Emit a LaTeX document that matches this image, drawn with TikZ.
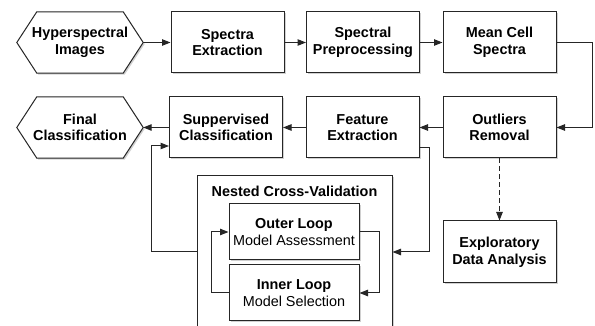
\documentclass[tikz,border=0pt]{standalone}
\usepackage{fontspec}
\setmainfont{Liberation Sans}
\usetikzlibrary{arrows.meta,shadows,backgrounds}
\begin{document}
\begin{tikzpicture}[x=1pt,y=1pt,
  line/.style={draw=black!85, line width=1pt},
  myshadow/.style={drop shadow={shadow xshift=1.5pt, shadow yshift=-1.5pt, opacity=0.3, fill=black!60}},
  basefont/.style={font=\fontsize{14.4}{16.7}\selectfont},
  boldfont/.style={font=\fontsize{14.4}{16.7}\selectfont\bfseries},
  box/.style={line, fill=white, myshadow, boldfont, minimum width=113pt, minimum height=61pt, align=center, inner sep=2pt},
  hextext/.style={boldfont, minimum width=126pt, minimum height=61pt, align=center, inner sep=2pt},
  hexline/.style={line, fill=white, myshadow},
  loopbox/.style={line, fill=white, myshadow, basefont, minimum width=130pt, minimum height=56pt, align=center, inner sep=2pt},
  arr/.style={line, -{Triangle[length=8.5pt,width=6.5pt]}},
]
\useasboundingbox (0,0) rectangle (595,326);

% row 1
\node[hextext] (hyp) at (80,283.5) {Hyperspectral\\Images};
\node[box] (se) at (227.5,283.5) {Spectra\\Extraction};
\node[box] (sp) at (363,283.5) {Spectral\\Preprocessing};
\node[box] (mc) at (499.5,283.5) {Mean Cell\\Spectra};

% row 2
\node[hextext] (fc) at (80,198.5) {Final\\Classification};
\node[box] (sc) at (226,198.5) {Suppervised\\Classification};
\node[box] (fe) at (362.5,198.5) {Feature\\Extraction};
\node[box] (or) at (499.5,198.5) {Outliers\\Removal};

% exploratory
\node[box, minimum height=62pt] (ex) at (499.5,74) {Exploratory\\Data Analysis};

% nested CV
\node[line, fill=white, myshadow, minimum width=195pt, minimum height=160pt] (ncv) at (294.5,70) {};
\node[boldfont, anchor=base] (ncvt) at (294.5,129) {Nested Cross-Validation};
\node[loopbox] (outer) at (294,94) {\textbf{Outer Loop}\\Model Assessment};
\node[loopbox] (inner) at (294,33) {\textbf{Inner Loop}\\Model Selection};

% hexagons
\begin{scope}[on background layer]
\foreach \h in {hyp,fc}{
  \draw[hexline] (\h.west) -- ([xshift=20pt]\h.north west) -- ([xshift=-20pt]\h.north east) -- (\h.east) -- ([xshift=-20pt]\h.south east) -- ([xshift=20pt]\h.south west) -- cycle;
}
\end{scope}

% connectors
\draw[arr] (hyp.east) -- (se.west);
\draw[arr] (se.east) -- (sp.west);
\draw[arr] (sp.east) -- (mc.west);
\draw[arr] (mc.east) -- ++(36,0) |- (or.east);
\draw[arr] (or.west) -- (fe.east);
\draw[arr] (fe.west) -- (sc.east);
\draw[arr] (sc.west) -- (fc.east);
\draw[arr] ([yshift=11pt]fe.south east) -- ++(10,0) |- ([yshift=4pt]ncv.east);
\draw[arr] ([yshift=4pt]ncv.west) -- ++(-45,0) |- ([yshift=-18.5pt]sc.west);
\draw[arr] (outer.east) -- ++(20,0) |- (inner.east);
\draw[arr] (inner.west) -- ++(-17,0) |- (outer.west);
\draw[arr, dash pattern=on 5pt off 3pt] (or.south) -- (ex.north);
\end{tikzpicture}
\end{document}
